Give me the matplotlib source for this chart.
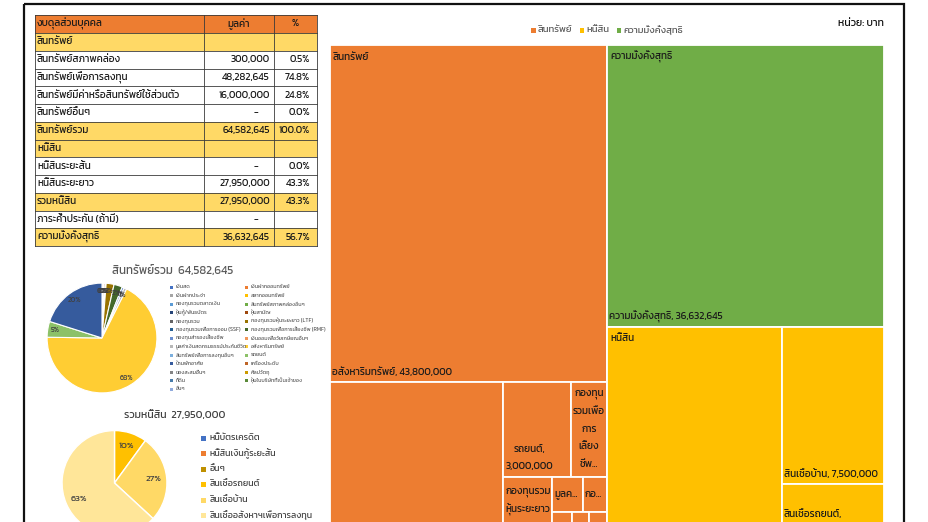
import matplotlib
matplotlib.use("Agg")
import matplotlib.pyplot as plt
from matplotlib.patches import Rectangle
from matplotlib.font_manager import FontProperties
import numpy as np

FONT = ['Kanit', 'Bai Jamjuree', 'DejaVu Sans']
plt.rcParams['font.family'] = FONT

# ------------------------------------------------------------------ data
table_header = ["งบดุลส่วนบุคคล", "มูลค่า", "%"]
table_labels = ["สินทรัพย์", "สินทรัพย์สภาพคล่อง", "สินทรัพย์เพื่อการลงทุน",
                "สินทรัพย์มีค่าหรือสินทรัพย์ใช้ส่วนตัว", "สินทรัพย์อื่นๆ", "สินทรัพย์รวม",
                "หนี้สิน", "หนี้สินระยะสั้น", "หนี้สินระยะยาว", "รวมหนี้สิน",
                "ภาระค้ำประกัน (ถ้ามี)", "ความมั่งคั่งสุทธิ"]
table_values = [None, 300000, 48282645, 16000000, 0, 64582645,
                None, 0, 27950000, 27950000, 0, 36632645]
table_pcts = [None, 0.5, 74.8, 24.8, 0.0, 100.0,
              None, 0.0, 43.3, 43.3, None, 56.7]
table_highlight = [0, 5, 6, 9, 11]

asset_names = ["เงินสด", "เงินฝากออมทรัพย์",
               "เงินฝากประจำ", "สลากออมทรัพย์",
               "กองทุนรวมตลาดเงิน", "สินทรัพย์สภาพคล่องอื่นๆ",
               "หุ้นกู้/พันธบัตร", "หุ้นสามัญ",
               "กองทุนรวม", "กองทุนรวมหุ้นระยะยาว (LTF)",
               "กองทุนรวมเพื่อการออม (SSF)", "กองทุนรวมเพื่อการเลี้ยงชีพ (RMF)",
               "กองทุนสำรองเลี้ยงชีพ", "เงินออมเพื่อวัยเกษียณอื่นๆ",
               "มูลค่าเงินสดกรมธรรม์ประกันชีวิต", "อสังหาริมทรัพย์",
               "สินทรัพย์เพื่อการลงทุนอื่นๆ", "รถยนต์",
               "บ้านพักอาศัย", "เครื่องประดับ",
               "ของสะสมอื่นๆ", "ศิลปวัตถุ",
               "ที่ดิน", "หุ้นในบริษัทที่เป็นเจ้าของ",
               "อื่นๆ"]
asset_values = [50000, 250000, 0, 0, 0, 0, 0, 282645, 200000, 1500000,
                0, 1600000, 400000, 0, 500000, 43800000, 0, 3000000,
                13000000, 0, 0, 0, 0, 0, 0]
asset_colors = ['#4472C4', '#ED7D31', '#A5A5A5', '#FFC000', '#5B9BD5', '#70AD47',
                '#264478', '#9E480E', '#636363', '#997300', '#255E91', '#43682B',
                '#698ED0', '#F1975A', '#B7B7B7', '#FFCD33', '#7CAFDD', '#8CC168',
                '#365B9D', '#BE6427', '#848484', '#CC9A00', '#497CAA', '#5A8A39',
                '#8FAADC']
asset_total = 64582645

liab_names = ["หนี้บัตรเครดิต", "หนี้สินเงินกู้ระยะสั้น", "อื่นๆ",
              "สินเชื่อรถยนต์", "สินเชื่อบ้าน", "สินเชื่ออสังหาฯเพื่อการลงทุน"]
liab_values = [0, 0, 0, 2800000, 7500000, 17650000]
liab_colors = ['#4472C4', '#ED7D31', '#BF9000', '#FFC000', '#FFD966', '#FFE699']
liab_total = 27950000

networth_name = "ความมั่งคั่งสุทธิ"
networth_value = 36632645

tm_groups = ["สินทรัพย์", "หนี้สิน", "ความมั่งคั่งสุทธิ"]
tm_colors = ['#ED7D31', '#FFC000', '#70AD47']

# word-break hints for wrapped treemap labels
wrap_hints = {
    "กองทุนรวมเพื่อการเลี้ยงชีพ (RMF)": "กองทุน|รวม|เพื่อ|การ|เลี้ยง|ชีพ (RMF)",
    "กองทุนรวมหุ้นระยะยาว (LTF)": "กองทุนรวม|หุ้นระยะยาว (LTF)",
    "มูลค่าเงินสดกรมธรรม์ประกันชีวิต": "มูลค่า|เงินสด|กรมธรรม์|ประกัน|ชีวิต",
    "กองทุนสำรองเลี้ยงชีพ": "กองทุน|สำรอง|เลี้ยง|ชีพ",
    "สินเชื่ออสังหาฯเพื่อการลงทุน": "สินเชื่อ|อสังหาฯ|เพื่อ|การ|ลงทุน",
    "สินเชื่อรถยนต์": "สินเชื่อ|รถยนต์",
    "สินเชื่อบ้าน": "สินเชื่อ|บ้าน",
    "บ้านพักอาศัย": "บ้าน|พัก|อาศัย",
    "เงินฝากออมทรัพย์": "เงินฝาก|ออมทรัพย์",
    "หุ้นสามัญ": "หุ้น|สามัญ",
    "กองทุนรวม": "กองทุน|รวม",
    "ความมั่งคั่งสุทธิ": "ความ|มั่งคั่ง|สุทธิ",
}

# ------------------------------------------------------------------ figure
W, H = 929, 522
fig = plt.figure(figsize=(W / 100, H / 100), dpi=100)
bg = fig.add_axes([0, 0, 1, 1])
bg.set_xlim(0, W)
bg.set_ylim(H, 0)
bg.axis('off')

def px_axes(x0, y0, w, h):
    return fig.add_axes([x0 / W, (H - y0 - h) / H, w / W, h / H])

# outer frame
bg.add_patch(Rectangle((24, 4), 880, 560, fill=False, lw=1.6, ec='#111111'))

# ------------------------------------------------------------------ table
T_LEFT, C1, C2, T_RIGHT = 35, 204, 274, 317
T_TOP, HDR_H, ROW_H = 15, 18, 17.75
TFS = 7.2
TC = '#1a1a1a'
GRID = '#3a3a3a'

bg.add_patch(Rectangle((T_LEFT, T_TOP), T_RIGHT - T_LEFT, HDR_H, fc='#ED7D31', ec='none'))
for i in range(len(table_labels)):
    y = T_TOP + HDR_H + i * ROW_H
    fc = '#FFD966' if i in table_highlight else 'white'
    bg.add_patch(Rectangle((T_LEFT, y), T_RIGHT - T_LEFT, ROW_H, fc=fc, ec='none'))
T_BOTTOM = T_TOP + HDR_H + len(table_labels) * ROW_H
for y in [T_TOP, T_TOP + HDR_H] + [T_TOP + HDR_H + (i + 1) * ROW_H for i in range(len(table_labels))]:
    bg.plot([T_LEFT, T_RIGHT], [y, y], color=GRID, lw=0.6)
for x in [T_LEFT, C1, C2, T_RIGHT]:
    bg.plot([x, x], [T_TOP, T_BOTTOM], color=GRID, lw=0.6)

yc = T_TOP + HDR_H / 2
bg.text(T_LEFT + 2, yc, table_header[0], fontsize=TFS, va='center', ha='left', color=TC)
bg.text((C1 + C2) / 2, yc, table_header[1], fontsize=TFS, va='center', ha='center', color=TC)
bg.text((C2 + T_RIGHT) / 2, yc, table_header[2], fontsize=TFS, va='center', ha='center', color=TC)
for i, (lab, val, pct) in enumerate(zip(table_labels, table_values, table_pcts)):
    yc = T_TOP + HDR_H + (i + 0.5) * ROW_H
    bg.text(T_LEFT + 2, yc, lab, fontsize=TFS, va='center', ha='left', color=TC)
    if val is not None:
        if val == 0:
            bg.text(256, yc, '-', fontsize=TFS, va='center', ha='center', color=TC)
        else:
            bg.text(C2 - 4, yc, f"{val:,}", fontsize=TFS, va='center', ha='right', color=TC)
    if pct is not None:
        bg.text(T_RIGHT - 7, yc, f"{pct:.1f}%", fontsize=TFS, va='center', ha='right', color=TC)

# ------------------------------------------------------------------ asset pie
bg.text(173, 270, f"สินทรัพย์รวม  {asset_total:,}", fontsize=8.3, ha='center', va='center', color='#595959')
ax1 = px_axes(102 - 56, 338 - 56, 112, 112)
nz = [i for i, v in enumerate(asset_values) if v > 0]
ax1.pie([asset_values[i] for i in nz], colors=[asset_colors[i] for i in nz],
        startangle=90, counterclock=False, radius=1,
        wedgeprops=dict(edgecolor='white', linewidth=0.8),
        autopct=lambda p: f"{p:.0f}%", pctdistance=0.86,
        textprops=dict(fontsize=5.2, color='#404040'))
ax1.set_xlim(-1.02, 1.02)
ax1.set_ylim(-1.02, 1.02)
ax1.set_aspect('equal')
ax1.axis('off')

LX = [172, 247]
for i, name in enumerate(asset_names):
    col, row = i % 2, i // 2
    y = 287 + row * 8.5
    bg.add_patch(Rectangle((LX[col] - 1.5, y - 1.5), 3, 3, fc=asset_colors[i], ec='none'))
    bg.text(LX[col] + 4, y, name, fontsize=3.9, va='center', ha='left', color='#595959')

# ------------------------------------------------------------------ liabilities pie
bg.text(175, 415, f"รวมหนี้สิน  {liab_total:,}", fontsize=7.6, ha='center', va='center', color='#404040')
ax2 = px_axes(114.5 - 53.5, 483 - 53.5, 107, 107)
nz2 = [i for i, v in enumerate(liab_values) if v > 0]
ax2.pie([liab_values[i] for i in nz2], colors=[liab_colors[i] for i in nz2],
        startangle=90, counterclock=False, radius=1,
        wedgeprops=dict(edgecolor='white', linewidth=1.0),
        autopct=lambda p: f"{p:.0f}%", pctdistance=0.74,
        textprops=dict(fontsize=6.6, color='#404040'))
ax2.set_xlim(-1.02, 1.02)
ax2.set_ylim(-1.02, 1.02)
ax2.set_aspect('equal')
ax2.axis('off')
for i, name in enumerate(liab_names):
    y = 438 + i * 15.5
    bg.add_patch(Rectangle((201.5, y - 2.5), 5, 5, fc=liab_colors[i], ec='none'))
    bg.text(210, y, name, fontsize=6.4, va='center', ha='left', color='#404040')

# ------------------------------------------------------------------ treemap
TM_X, TM_Y, TM_W, TM_H = 330, 45, 554, 497
tm = px_axes(TM_X, TM_Y, TM_W, TM_H)
tm.set_xlim(0, TM_W)
tm.set_ylim(TM_H, 0)
tm.axis('off')

def binary_layout(values, x, y, w, h):
    if len(values) == 1:
        return [(x, y, w, h)]
    total = float(sum(values))
    cum = np.cumsum(values)
    k = int(np.argmin(np.abs(cum[:-1] - total / 2))) + 1
    a = cum[k - 1]
    if w >= h:
        wa = w * a / total
        return binary_layout(values[:k], x, y, wa, h) + binary_layout(values[k:], x + wa, y, w - wa, h)
    ha = h * a / total
    return binary_layout(values[:k], x, y, w, ha) + binary_layout(values[k:], x, y + ha, w, h - ha)

children = {
    "สินทรัพย์": [(n, v) for n, v in zip(asset_names, asset_values) if v > 0],
    "หนี้สิน": [(n, v) for n, v in zip(liab_names, liab_values) if v > 0],
    "ความมั่งคั่งสุทธิ": [(networth_name, networth_value)],
}
group_totals = [sum(v for _, v in children[g]) for g in tm_groups]
order = sorted(range(len(tm_groups)), key=lambda i: -group_totals[i])
group_rects = binary_layout([group_totals[i] for i in order], 0, 0, TM_W, TM_H)

TM_FS = 7.2
LH = 17.5
fp = FontProperties(family=FONT, size=TM_FS)
renderer = fig.canvas.get_renderer()

def measure(s):
    w, h, d = renderer.get_text_width_height_descent(s, fp, ismath=False)
    return w

COMB = set(chr(c) for c in [0x0E31] + list(range(0x0E34, 0x0E3B)) + list(range(0x0E47, 0x0E4F)))

def trim(s):
    s = s[:-1]
    while s and s[-1] in COMB:
        s = s[:-1]
    return s

def make_tokens(name, value):
    seg = wrap_hints.get(name, name)
    toks = []
    for i, part in enumerate(seg.split('|')):
        for j, word in enumerate(part.split(' ')):
            sep = ' ' if j > 0 else ''
            toks.append([sep, word])
    toks[-1][1] += ','
    toks.append([' ', f"{value:,}"])
    return toks

def wrap(toks, maxw):
    lines, cur = [], ''
    for sep, t in toks:
        cand = t if cur == '' else cur + sep + t
        if cur and measure(cand) > maxw:
            lines.append(cur)
            cur = t
        else:
            cur = cand
    if cur:
        lines.append(cur)
    return lines

def ellipsize(s, maxw):
    base = s
    while base and measure(base + '...') > maxw:
        base = trim(base)
    return base + '...'

for gi, (gx, gy, gw, gh) in zip(order, group_rects):
    g = tm_groups[gi]
    kids = sorted(children[g], key=lambda t: -t[1])
    rects = binary_layout([v for _, v in kids], gx, gy, gw, gh)
    for (name, val), (x, y, w, h) in zip(kids, rects):
        tm.add_patch(Rectangle((x, y), w, h, fc=tm_colors[gi], ec='white', lw=1.3))
        maxw = w - 3
        maxlines = int((h - 4) // LH)
        if maxlines < 1 or maxw < 4:
            continue
        lines = wrap(make_tokens(name, val), maxw)
        truncated = len(lines) > maxlines
        if truncated:
            lines = lines[:maxlines]
            lines[-1] = ellipsize(lines[-1], maxw)
        lines = [l if measure(l) <= maxw else ellipsize(l, maxw) for l in lines]
        bw = max(measure(l) for l in lines)
        xc = x + 2 + bw / 2
        n = len(lines)
        if truncated:
            y0 = y + h / 2 - (n - 1) * LH / 2
        else:
            y0 = y + h - 10 - (n - 1) * LH
        for k, l in enumerate(lines):
            yy = y0 + k * LH
            if TM_Y + yy > H - 5:   # falls below the visible canvas
                continue
            tm.text(xc, yy, l, fontsize=TM_FS, ha='center', va='center', color='#1a1a1a')
    tm.text(gx + 3, gy + 12, g, fontsize=TM_FS, ha='left', va='center', color='#1a1a1a')

# treemap legend and unit
LFS = 6.8
lfp = FontProperties(family=FONT, size=LFS)
def lw_(s):
    return renderer.get_text_width_height_descent(s, lfp, ismath=False)[0]
total_w = sum(6 + lw_(g) for g in tm_groups) + 8 * (len(tm_groups) - 1)
x = 607 - total_w / 2
for g, c in zip(tm_groups, tm_colors):
    bg.add_patch(Rectangle((x, 28), 4.5, 4.5, fc=c, ec='none'))
    bg.text(x + 6.5, 30.2, g, fontsize=LFS, va='center', ha='left', color='#595959')
    x += 6 + lw_(g) + 8
bg.text(884, 23, "หน่วย: บาท", fontsize=7.6, va='center', ha='right', color='#111111')

fig.savefig("out.png", dpi=100)
